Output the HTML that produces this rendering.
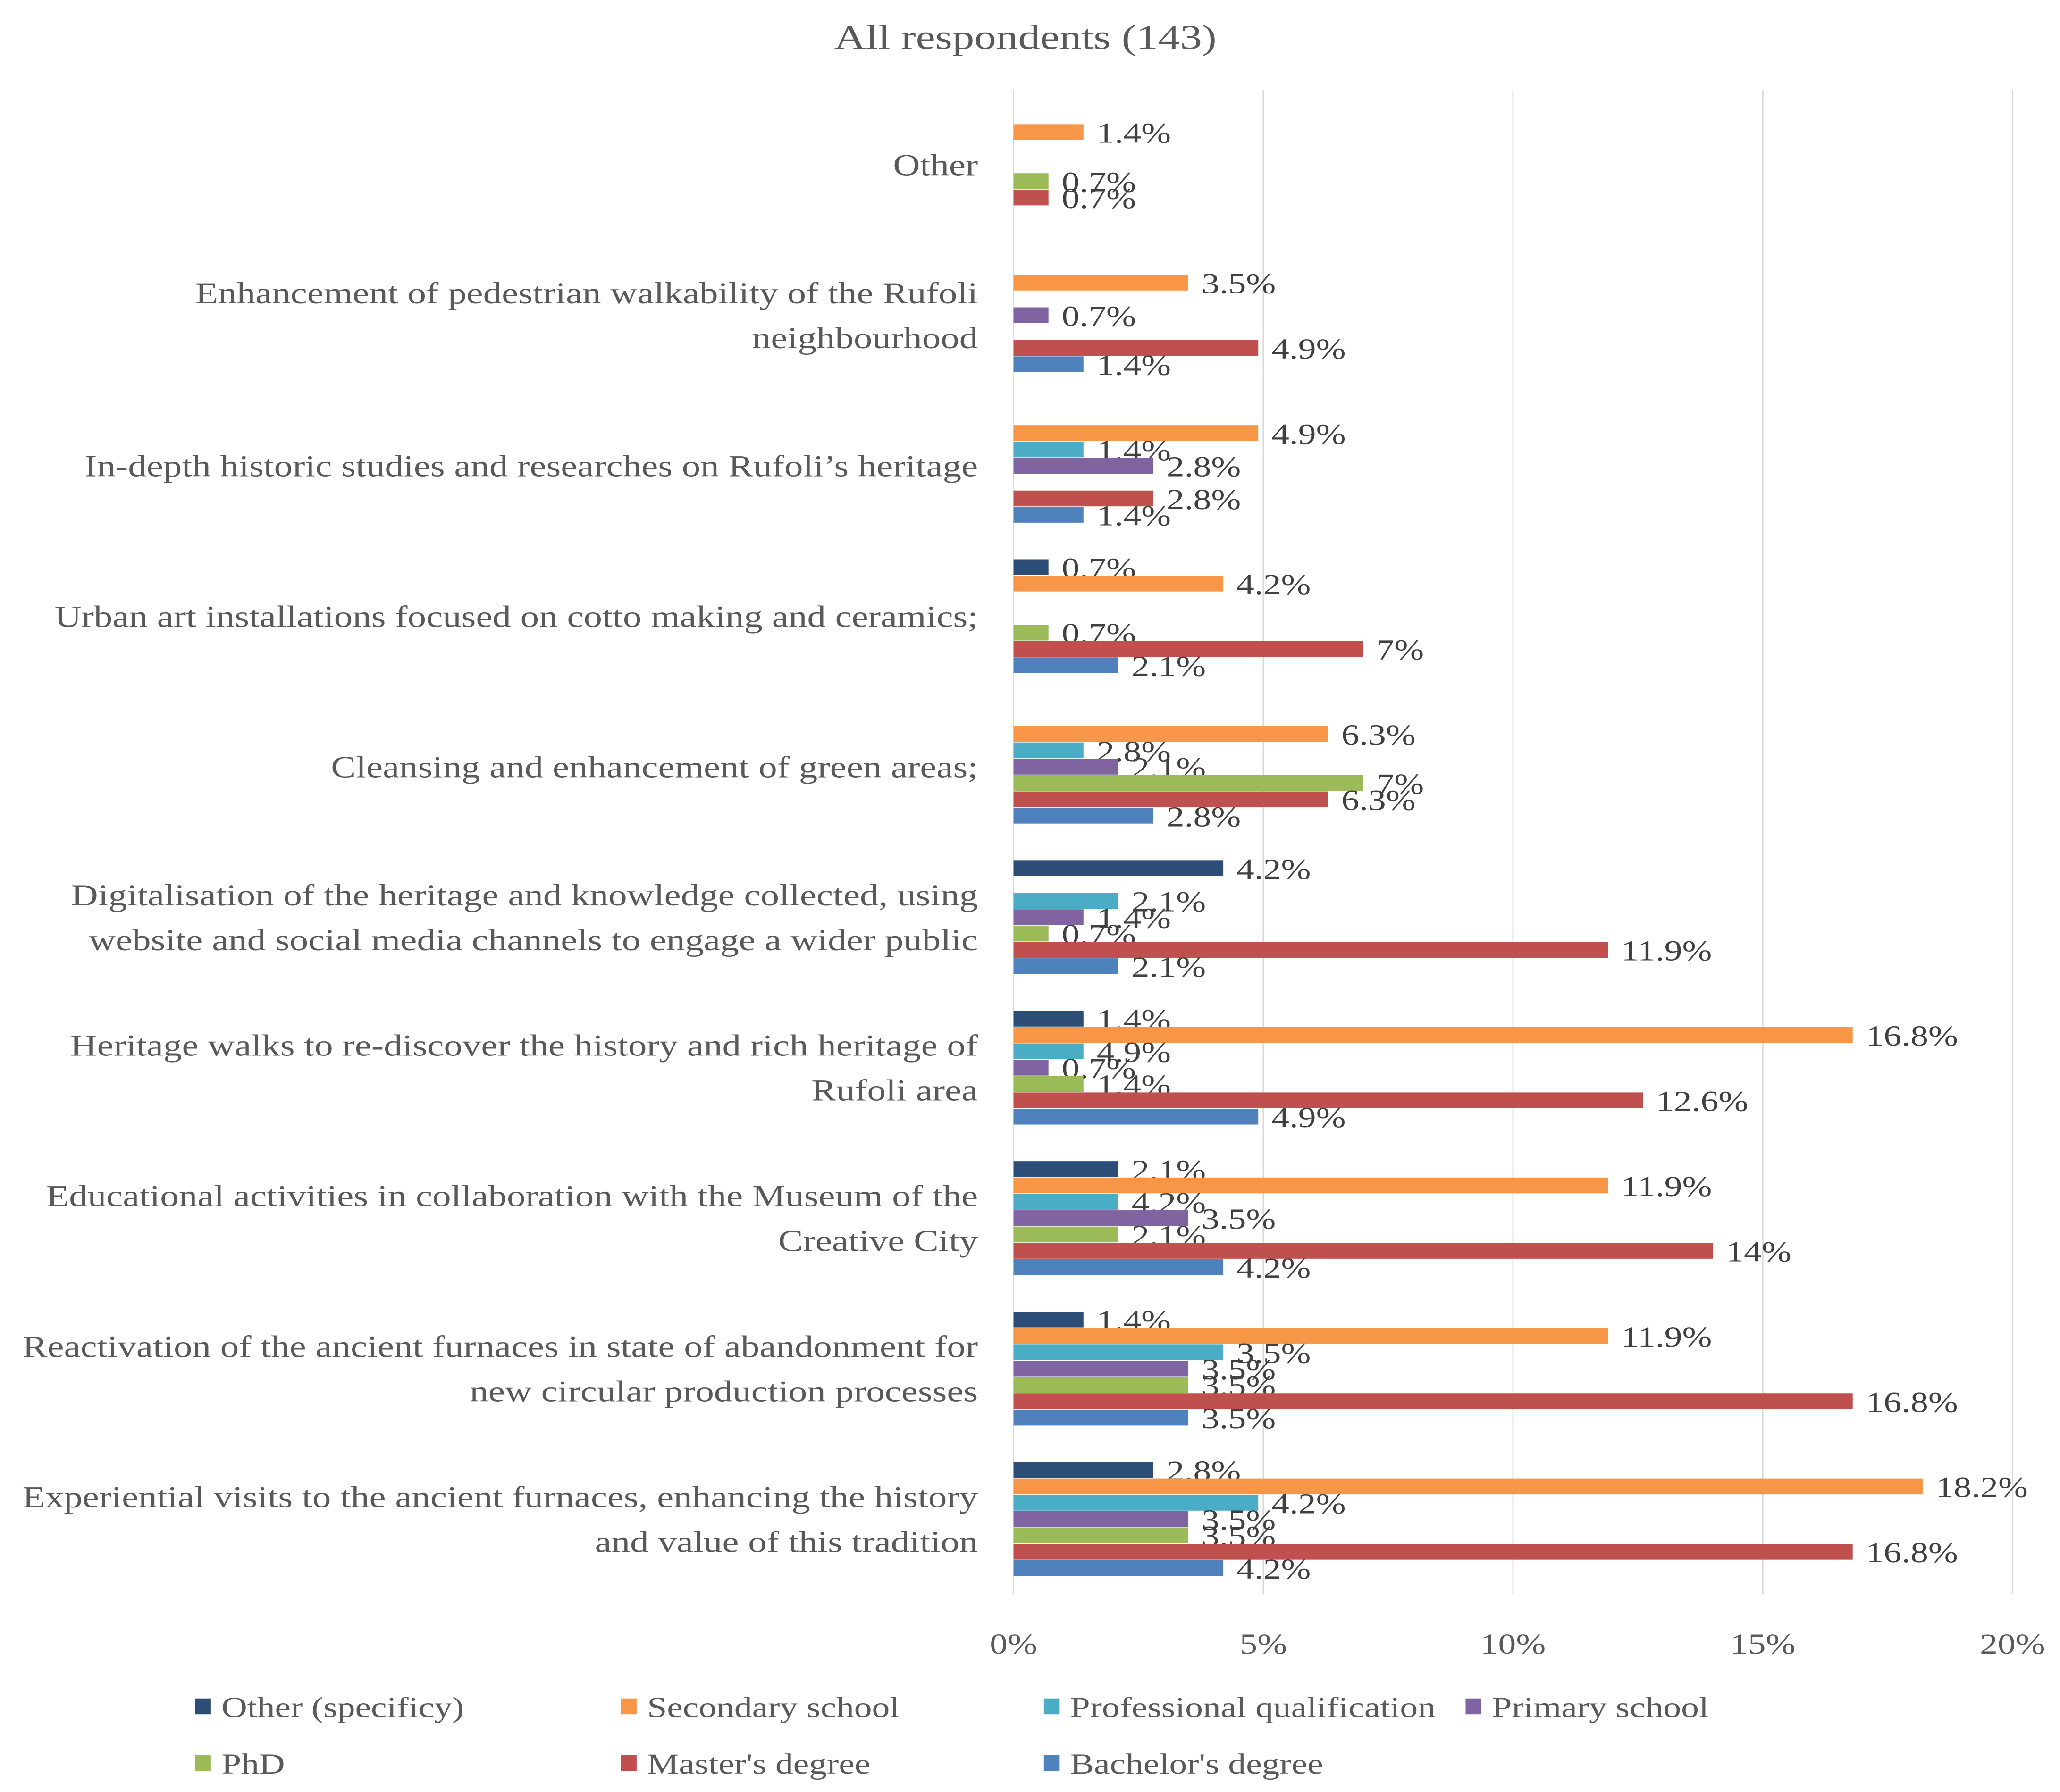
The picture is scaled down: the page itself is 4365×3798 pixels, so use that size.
<!DOCTYPE html>
<html><head><meta charset="utf-8"><style>
html,body{margin:0;padding:0;background:#fff;}
svg{display:block;}
text{font-family:"Liberation Serif",serif;}
</style></head><body>
<svg id="chart" width="4365" height="3798" viewBox="0 0 1563 1360" xmlns="http://www.w3.org/2000/svg">
<rect width="1563" height="1360" fill="#fff"/>
<text transform="translate(778,37) scale(1.28,1)" text-anchor="middle" font-size="26" fill="#595959">All respondents (143)</text>
<g id="grid"></g><g id="cats"></g><g id="bars"></g><g id="ticks"></g><g id="legend"></g>
</svg>
<script>
const categories = [
 ["Other"],
 ["Enhancement of pedestrian walkability of the Rufoli","neighbourhood"],
 ["In-depth historic studies and researches on Rufoli’s heritage"],
 ["Urban art installations focused on cotto making and ceramics;"],
 ["Cleansing and enhancement of green areas;"],
 ["Digitalisation of the heritage and knowledge collected, using","website and social media channels to engage a wider public"],
 ["Heritage walks to re-discover the history and rich heritage of","Rufoli area"],
 ["Educational activities in collaboration with the Museum of the","Creative City"],
 ["Reactivation of the ancient furnaces in state of abandonment for","new circular production processes"],
 ["Experiential visits to the ancient furnaces, enhancing the history","and value of this tradition"]
];
const seriesNames = ["Other (specificy)","Secondary school","Professional qualification","Primary school","PhD","Master's degree","Bachelor's degree"];
const seriesColors = ["#2c4d75","#f79646","#4bacc6","#8064a2","#9bbb59","#c0504d","#4f81bd"];
const otherSpec = [0,0,0,0.7,0,4.2,1.4,2.1,1.4,2.8];
const secondary = [1.4,3.5,4.9,4.2,6.3,0,16.8,11.9,11.9,18.2];
const professional = [0,0,1.4,0,1.4,2.1,1.4,2.1,4.2,4.9];
const professionalLabels = [0,0,1.4,0,2.8,2.1,4.9,4.2,3.5,4.2];
const primary = [0,0.7,2.8,0,2.1,1.4,0.7,3.5,3.5,3.5];
const phd = [0.7,0,0,0.7,7,0.7,1.4,2.1,3.5,3.5];
const masters = [0.7,4.9,2.8,7,6.3,11.9,12.6,14,16.8,16.8];
const bachelors = [0,1.4,1.4,2.1,2.8,2.1,4.9,4.2,3.5,4.2];
const xTicks = [0,5,10,15,20];

const series = [otherSpec,secondary,professional,primary,phd,masters,bachelors];
const seriesLabels = [otherSpec,secondary,professionalLabels,primary,phd,masters,bachelors];
const NS="http://www.w3.org/2000/svg";
const x0=769, x1=1527, xMax=20, yTop=68, yBot=1210;
const SX=1.23;
const xs = v => x0 + (x1-x0)*v/xMax;
const groupH = (yBot-yTop)/categories.length;
const yc = i => yTop + groupH*(i+0.5);
const step=12.4, bh=12;
function mk(tag,attrs,parent,txt){const e=document.createElementNS(NS,tag);for(const k in attrs)e.setAttribute(k,attrs[k]);if(txt!==undefined)e.textContent=txt;parent.appendChild(e);return e;}
function txt(x,y,attrs,parent,s){attrs.transform='translate('+x+','+y+') scale('+SX+',1)';return mk('text',attrs,parent,s);}
const grid=document.getElementById('grid'), ticks=document.getElementById('ticks');
xTicks.forEach(t=>{
 const l=mk('line',{x1:xs(t),x2:xs(t),y1:yTop,y2:yBot,stroke:'#d9d9d9','stroke-width':1},grid);
 
 
 const tx=txt(xs(t),1255,{'text-anchor':'middle','font-size':22,fill:'#595959'},ticks,t+'%');
 
 
});
const cats=document.getElementById('cats');
categories.forEach((lines,i)=>{
 const c=yc(i);
 lines.forEach((ln,j)=>{
  const off = lines.length===1?0:(j===0?-17:17);
  const t=txt(742,c+off+8,{'text-anchor':'end','font-size':23,fill:'#595959'},cats,ln);
  
  
 });
});
const bars=document.getElementById('bars');
categories.forEach((_,i)=>{
 const c=yc(i);
 series.forEach((arr,s)=>{
  const v=arr[i], lv=seriesLabels[s][i];
  if(!v && !lv) return;
  const by=c+(s-3)*step;
  const r=mk('rect',{x:xs(0),y:by-bh/2,width:Math.max(0,xs(v)-xs(0)),height:bh,fill:seriesColors[s]},bars);
  
  
  const t=txt(xs(v)+10,by+8,{'font-size':22,fill:'#404040'},bars,lv+'%');
  
  
 });
});
const leg=document.getElementById('legend');
const lx=[148,471,792,1112];
seriesNames.forEach((n,s)=>{
 const row=Math.floor(s/4), col=s%4;
 const y=row?1338:1295;
 const g=mk('g',{},leg);
 
 
 mk('rect',{x:lx[col],y:y-6,width:12,height:12,fill:seriesColors[s]},g);
 txt(lx[col]+20,y+8,{'font-size':22,fill:'#595959'},g,n);
});
</script>
</body></html>
